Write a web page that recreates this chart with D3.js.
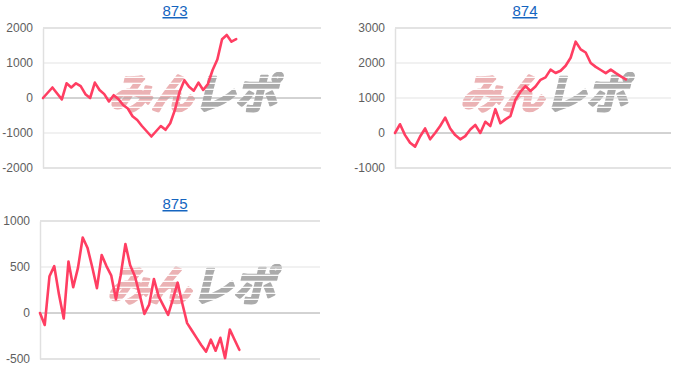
<!DOCTYPE html>
<html>
<head>
<meta charset="utf-8">
<script src="https://cdn.jsdelivr.net/npm/d3@7"></script>
<style>
  html, body { margin: 0; padding: 0; background: #fff; }
  svg { display: block; font-family: "Liberation Sans", Arial, sans-serif; }
</style>
</head>
<body>
<div id="chart"></div>
<script>
// machine numbers (chart titles)
const machines = ['873', '874', '875'];

// running totals
const values873 = [0, 150, 300, 130, -40, 420, 300, 420, 340, 110, 0, 440, 230, 110, -100, 80, -30, -200, -300, -520,
    -630, -800, -950, -1100, -950, -800, -910, -720, -340, 180, 510, 320, 210, 440, 230, 400, 800, 1100, 1680, 1800,
    1610, 1680];
const values874 = [0, 250, -60, -280, -390, -100, 130, -180, 0, 200, 440, 130, -60, -180, -90, 100, 230, 0, 320, 200,
    680, 280, 390, 480, 950, 1180, 1340, 1200, 1330, 1520, 1590, 1810, 1715, 1780, 1920, 2150, 2610, 2390, 2300, 2000,
    1890, 1800, 1710, 1810, 1710, 1620, 1530];
const values875 = [0, -130, 400, 510, 200, -60, 560, 280, 490, 820, 710, 500, 270, 630, 510, 410, 150, 410, 750, 520,
    400, 200, -10, 90, 370, 180, 80, -20, 150, 330, 100, -110, -190, -270, -350, -420, -290, -410, -270, -490,
    -180, -290, -400];

// x extent (number of periods on each axis)
const xSpan = [59, 55, 59];

// y tick labels
const ticks873 = [-2000, -1000, 0, 1000, 2000];
const ticks874 = [-1000, 0, 1000, 2000, 3000];
const ticks875 = [-500, 0, 500, 1000];

const width = 700, height = 384;
const svg = d3.select('#chart').append('svg')
    .attr('width', width)
    .attr('height', height);

// stripes mask for the watermark
const defs = svg.append('defs');
const pat = defs.append('pattern')
    .attr('id', 'stripes')
    .attr('patternUnits', 'userSpaceOnUse')
    .attr('width', 8).attr('height', 6);
pat.append('rect').attr('width', 8).attr('height', 4.8).attr('fill', '#fff');
defs.append('mask').attr('id', 'stripeMask')
    .append('rect')
    .attr('x', 0).attr('y', 0).attr('width', width).attr('height', height)
    .attr('fill', 'url(#stripes)');

const panels = [
    {title: machines[0], values: values873, ticks: ticks873, span: xSpan[0],
     cx: 175, titleY: 16, left: 43, right: 321, top: 28, bottom: 168},
    {title: machines[1], values: values874, ticks: ticks874, span: xSpan[1],
     cx: 525, titleY: 16, left: 395, right: 671, top: 28, bottom: 168},
    {title: machines[2], values: values875, ticks: ticks875, span: xSpan[2],
     cx: 175, titleY: 209, left: 40, right: 320, top: 221, bottom: 359}
];

panels.forEach(p => drawPanel(p));

function drawPanel(p) {
    const g = svg.append('g');

    const x = d3.scaleLinear()
        .domain([0, p.span])
        .range([p.left, p.right]);

    const y = d3.scaleLinear()
        .domain(d3.extent(p.ticks))
        .range([p.bottom, p.top]);

    // Title (link style)
    g.append('text')
        .attr('x', p.cx)
        .attr('y', p.titleY)
        .attr('text-anchor', 'middle')
        .attr('font-size', '15px')
        .attr('fill', '#1565c0')
        .attr('text-decoration', 'underline')
        .text(p.title);

    // Watermark
    const wx = (p.left + p.right) / 2 + 11;
    const base = (p.top + p.bottom) / 2 + 11;
    const skew = Math.tan(14 * Math.PI / 180);
    const wm = g.append('text')
        .attr('x', wx - 84)
        .attr('y', base)
        .attr('textLength', 168)
        .attr('lengthAdjust', 'spacingAndGlyphs')
        .attr('font-size', '42px')
        .attr('font-weight', 'bold')
        .attr('font-family', '"Noto Sans CJK JP", sans-serif')
        .attr('stroke-width', 2.5)
        .attr('stroke-linejoin', 'round')
        .attr('transform', `translate(${base * skew},0) skewX(-14)`)
        .attr('mask', 'url(#stripeMask)');
    wm.append('tspan').attr('fill', '#ebb2b4').attr('stroke', '#ebb2b4').text('みん');
    wm.append('tspan').attr('fill', '#ababab').attr('stroke', '#ababab').text('レポ');

    // Grid lines
    g.append('g')
        .selectAll('line')
        .data(p.ticks)
        .join('line')
        .attr('x1', p.left)
        .attr('x2', p.right)
        .attr('y1', d => y(d))
        .attr('y2', d => y(d))
        .attr('stroke', d => d === 0 ? '#a6a6a6' : '#e3e3e3')
        .attr('stroke-width', (d, i) => (i === 0 || i === p.ticks.length - 1) && d !== 0 ? 2 : 1);

    // Y axis
    g.append('g')
        .attr('transform', `translate(${p.left},0)`)
        .call(d3.axisLeft(y).tickValues(p.ticks).tickSize(0).tickPadding(10).tickFormat(d => String(d)))
        .call(g => g.select('.domain').attr('stroke', '#e0e0e0').attr('stroke-width', 1.5))
        .call(g => g.selectAll('text')
            .attr('font-size', '12px')
            .attr('font-family', '"Liberation Sans", Arial, sans-serif')
            .attr('fill', '#5e5e5e'));

    // Line
    const line = d3.line()
        .x((d, i) => x(i))
        .y(d => y(d));

    g.append('path')
        .datum(p.values)
        .attr('d', line)
        .attr('fill', 'none')
        .attr('stroke', '#ff3e62')
        .attr('stroke-width', 2.6)
        .attr('stroke-linejoin', 'round')
        .attr('stroke-linecap', 'round');
}
</script>
</body>
</html>
